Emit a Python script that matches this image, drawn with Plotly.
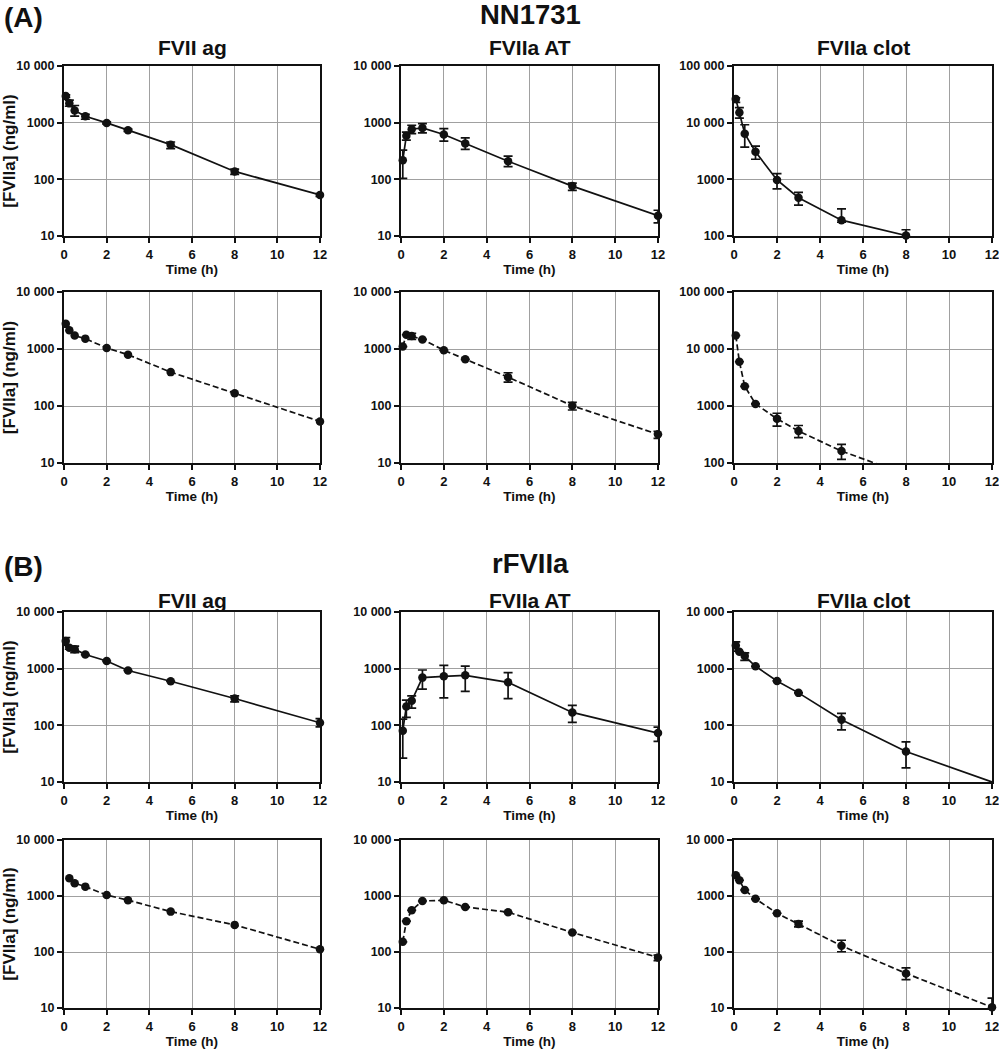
import plotly.graph_objects as go

# ---------------- data ----------------
T_FULL = [0.083, 0.25, 0.5, 1, 2, 3, 5, 8, 12]
T_NO5 = [0.25, 0.5, 1, 2, 3, 5, 8, 12]

# (A) NN1731, top row (solid)
A1_ag_y = [2950, 2190, 1640, 1300, 990, 735, 409, 138, 53]
A1_ag_hi = [3100, 2500, 2010, 1400, 1030, 770, 456, 152, 56]
A1_ag_lo = [2800, 1950, 1300, 1150, 950, 700, 348, 122, 50]

A1_at_y = [218, 585, 766, 809, 617, 428, 209, 76, 22.8]
A1_at_hi = [327, 679, 900, 965, 787, 539, 256, 86, 28.5]
A1_at_lo = [104, 491, 640, 663, 471, 339, 167, 64, 17]

A1_clot_t = [0.083, 0.25, 0.5, 1, 2, 3, 5, 8]
A1_clot_y = [26200, 15100, 6400, 3060, 977, 474, 190, 102]
A1_clot_hi = [27500, 18450, 9190, 3850, 1260, 590, 301, 129]
A1_clot_lo = [22900, 12000, 3690, 2260, 680, 350, 175, 95]

# (A) NN1731, second row (dashed)
A2_ag_y = [2760, 2135, 1718, 1520, 1042, 794, 393, 167, 53.7]

A2_at_y = [1104, 1778, 1683, 1470, 951, 659, 321, 101, 31.8]
A2_at_hi = [1104, 1778, 1890, 1470, 951, 659, 383, 116, 36]
A2_at_lo = [1104, 1778, 1470, 1470, 951, 659, 262, 85, 27]

A2_clot_t = [0.083, 0.25, 0.5, 1, 2, 3, 5]
A2_clot_y = [17260, 5980, 2218, 1089, 596, 363, 162]
A2_clot_hi = [17260, 5980, 2218, 1089, 746, 455, 212]
A2_clot_lo = [17260, 5980, 2218, 1089, 445, 278, 116]
A2_clot_fit_t = [0.083, 0.25, 0.5, 1, 2, 3, 5, 8]
A2_clot_fit_y = [17260, 5980, 2218, 1089, 596, 363, 162, 63]

# (B) rFVIIa, top row (solid)
B1_ag_y = [3070, 2330, 2210, 1773, 1365, 929, 600, 297, 111]
B1_ag_hi = [3520, 2450, 2500, 1773, 1365, 929, 600, 330, 131]
B1_ag_lo = [2600, 2200, 1920, 1773, 1365, 929, 600, 260, 94]

B1_at_y = [80.5, 215, 271, 695, 733, 763, 575, 169, 73]
B1_at_hi = [129, 278, 330, 948, 1145, 1110, 852, 225, 93]
B1_at_lo = [26.4, 138, 202, 434, 305, 396, 296, 113, 52]

B1_clot_t = [0.083, 0.25, 0.5, 1, 2, 3, 5, 8]
B1_clot_y = [2570, 1990, 1670, 1100, 608, 374, 126, 34.5]
B1_clot_hi = [2970, 1990, 1900, 1100, 608, 374, 163, 51]
B1_clot_lo = [2040, 1990, 1400, 1100, 608, 374, 83, 17.8]
B1_clot_fit_t = [0.083, 0.25, 0.5, 1, 2, 3, 5, 8, 12]
B1_clot_fit_y = [2570, 1990, 1670, 1100, 608, 374, 126, 34.5, 10]

# (B) rFVIIa, second row (dashed)
B2_ag_y = [2080, 1690, 1470, 1038, 843, 526, 305, 112]

B2_at_y = [152, 355, 557, 815, 838, 638, 513, 223, 80]
B2_at_hi = [152, 355, 557, 815, 838, 638, 513, 223, 88]
B2_at_lo = [152, 355, 557, 815, 838, 638, 513, 223, 70]

B2_clot_y = [2340, 1910, 1280, 889, 492, 316, 129, 41.5, 10.3]
B2_clot_hi = [2340, 1910, 1280, 889, 492, 356, 162, 52, 15]
B2_clot_lo = [2340, 1910, 1280, 889, 492, 280, 101, 32, 9]

X_TICKS = [0, 2, 4, 6, 8, 10, 12]
Y_TICKS_LOW = [10, 100, 1000, 10000]
Y_TEXT_LOW = ["10", "100", "1000", "10 000"]
Y_TICKS_HIGH = [100, 1000, 10000, 100000]
Y_TEXT_HIGH = ["100", "1000", "10 000", "100 000"]

PANEL_TITLES = ["FVII ag", "FVIIa AT", "FVIIa clot"]
GROUP_TITLES = ["NN1731", "rFVIIa"]
GROUP_LABELS = ["(A)", "(B)"]
X_TITLE = "Time (h)"
Y_TITLE = "[FVIIa] (ng/ml)"

# ---------------- layout helpers ----------------
W, H = 999, 1050
COLS_PX = [(64, 320), (401, 658), (734, 992)]
ROWS_PX = [(66, 236), (292, 463), (612, 782), (840, 1008)]
TITLE_Y_PX = [48, 600]
GROUP_Y_PX = [15, 563]

def dom_x(a, b):
    return [a / W, b / W]

def dom_y(top, bot):
    return [1 - bot / H, 1 - top / H]

def errs(y, hi, lo):
    if hi is None:
        return None, None
    return [h - v for h, v in zip(hi, y)], [v - l for v, l in zip(y, lo)]

panels = [
    # row, col, t, y, hi, lo, fit_t, fit_y, dashed, high_range
    (0, 0, T_FULL, A1_ag_y, A1_ag_hi, A1_ag_lo, None, None, False, False),
    (0, 1, T_FULL, A1_at_y, A1_at_hi, A1_at_lo, None, None, False, False),
    (0, 2, A1_clot_t, A1_clot_y, A1_clot_hi, A1_clot_lo, None, None, False, True),
    (1, 0, T_FULL, A2_ag_y, None, None, None, None, True, False),
    (1, 1, T_FULL, A2_at_y, A2_at_hi, A2_at_lo, None, None, True, False),
    (1, 2, A2_clot_t, A2_clot_y, A2_clot_hi, A2_clot_lo, A2_clot_fit_t, A2_clot_fit_y, True, True),
    (2, 0, T_FULL, B1_ag_y, B1_ag_hi, B1_ag_lo, None, None, False, False),
    (2, 1, T_FULL, B1_at_y, B1_at_hi, B1_at_lo, None, None, False, False),
    (2, 2, B1_clot_t, B1_clot_y, B1_clot_hi, B1_clot_lo, B1_clot_fit_t, B1_clot_fit_y, False, False),
    (3, 0, T_NO5, B2_ag_y, None, None, None, None, True, False),
    (3, 1, T_FULL, B2_at_y, B2_at_hi, B2_at_lo, None, None, True, False),
    (3, 2, T_FULL, B2_clot_y, B2_clot_hi, B2_clot_lo, None, None, True, False),
]

FONT = "Liberation Sans, Arial, sans-serif"
INK = "#111111"
GRID = "#a0a0a0"
fig = go.Figure()
layout = dict(
    width=W, height=H, margin=dict(l=0, r=0, t=0, b=0, autoexpand=False),
    paper_bgcolor="white", plot_bgcolor="white", showlegend=False,
    font=dict(family=FONT, color=INK, size=12, weight="bold"),
)

annotations = []
for idx, (r, c, t, y, hi, lo, ft, fy, dashed, high) in enumerate(panels):
    n = idx + 1
    xs = "x" if n == 1 else f"x{n}"
    ys = "y" if n == 1 else f"y{n}"
    dash = "6px,3px" if dashed else "solid"
    lt, ly = (ft, fy) if ft is not None else (t, y)
    fig.add_trace(go.Scatter(x=lt, y=ly, mode="lines", xaxis=xs, yaxis=ys,
                             line=dict(color=INK, width=1.7, dash=dash),
                             hoverinfo="skip"))
    ep, em = errs(y, hi, lo)
    err = None
    if ep is not None:
        err = dict(type="data", symmetric=False, array=ep, arrayminus=em,
                   color=INK, thickness=1.7, width=4.5)
    fig.add_trace(go.Scatter(x=t, y=y, mode="markers", xaxis=xs, yaxis=ys,
                             marker=dict(color=INK, size=8.5),
                             error_y=err, cliponaxis=False))
    xa = dict(domain=dom_x(*COLS_PX[c]), anchor=ys, range=[0, 12],
              tickvals=X_TICKS, ticks="outside", ticklen=5, tickwidth=2,
              tickcolor=INK, showline=True, mirror=True, linewidth=2,
              linecolor=INK, showgrid=True, gridcolor=GRID, gridwidth=1,
              zeroline=False, automargin=False, ticklabeloverflow="allow",
              tickfont=dict(size=13, weight="bold"),
              title=dict(text=X_TITLE, font=dict(size=13.5, weight="bold"), standoff=3))
    ya = dict(domain=dom_y(*ROWS_PX[r]), anchor=xs, type="log",
              range=[2, 5] if high else [1, 4],
              tickvals=Y_TICKS_HIGH if high else Y_TICKS_LOW,
              ticktext=Y_TEXT_HIGH if high else Y_TEXT_LOW,
              ticks="outside", ticklen=5, tickwidth=2, tickcolor=INK,
              showline=True, mirror=True, linewidth=2, linecolor=INK,
              showgrid=True, gridcolor=GRID, gridwidth=1, zeroline=False,
              automargin=False, ticklabeloverflow="allow",
              tickfont=dict(size=12.5, weight="bold"))
    if c == 0:
        ya["title"] = dict(text=Y_TITLE, font=dict(size=17, weight="bold"), standoff=3)
    layout["xaxis" if n == 1 else f"xaxis{n}"] = xa
    layout["yaxis" if n == 1 else f"yaxis{n}"] = ya

# panel titles
for gi in range(2):
    for c in range(3):
        a, b = COLS_PX[c]
        annotations.append(dict(text=PANEL_TITLES[c], x=(a + b) / 2 / W,
                                y=1 - TITLE_Y_PX[gi] / H,
                                xref="paper", yref="paper", showarrow=False,
                                xanchor="center", yanchor="middle",
                                font=dict(size=21, weight="bold")))
    annotations.append(dict(text=GROUP_TITLES[gi], x=530 / W, y=1 - GROUP_Y_PX[gi] / H,
                            xref="paper", yref="paper", showarrow=False,
                            xanchor="center", yanchor="middle",
                            font=dict(size=27.5, weight="bold")))
    annotations.append(dict(text=GROUP_LABELS[gi], x=2 / W, y=1 - (GROUP_Y_PX[gi] + 3) / H,
                            xref="paper", yref="paper", showarrow=False,
                            xanchor="left", yanchor="middle",
                            font=dict(size=28, weight="bold")))

layout["annotations"] = annotations
fig.update_layout(**layout)
fig.write_html("out.html", config={"displayModeBar": False},
               post_script="document.body.style.margin='0';document.body.style.overflow='hidden';")
